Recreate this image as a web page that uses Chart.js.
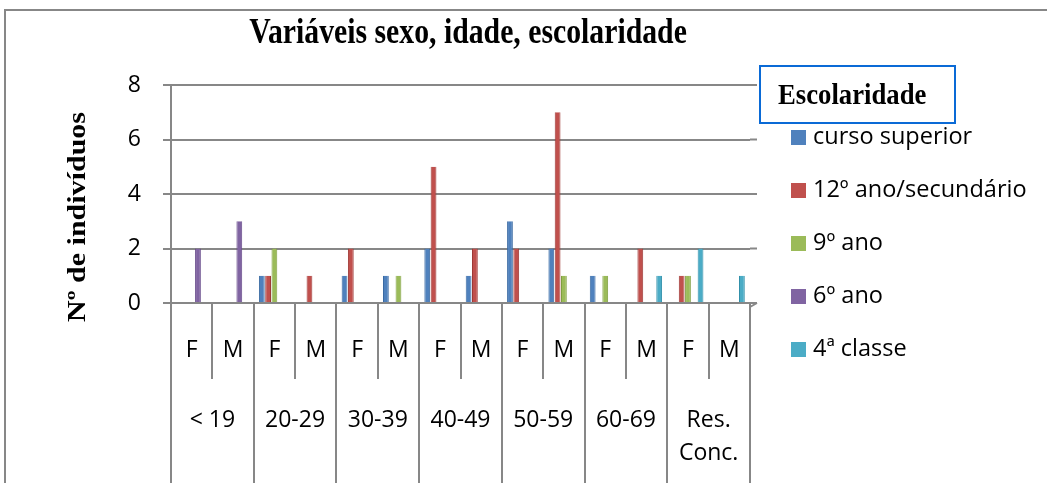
<!DOCTYPE html>
<html>
<head>
<meta charset="utf-8">
<script src="https://cdn.jsdelivr.net/npm/chart.js@4/dist/chart.umd.min.js"></script>
<style>
html, body { margin: 0; padding: 0; background: #fff; }
#wrap { width: 1047px; height: 483px; }
</style>
</head>
<body>
<div id="wrap"><canvas id="grafico"></canvas></div>
<script>
// dados
var categorias = ['F', 'M', 'F', 'M', 'F', 'M', 'F', 'M', 'F', 'M', 'F', 'M', 'F', 'M'];
var faixas = [['< 19'], ['20-29'], ['30-39'], ['40-49'], ['50-59'], ['60-69'], ['Res.', 'Conc.']];
var cursoSuperior = [0, 0, 1, 0, 1, 1, 2, 1, 3, 2, 1, 0, 0, 0];
var secundario    = [0, 0, 1, 1, 2, 0, 5, 2, 2, 7, 0, 2, 1, 0];
var nonoAno       = [0, 0, 2, 0, 0, 1, 0, 0, 0, 1, 1, 0, 1, 0];
var sextoAno      = [2, 3, 0, 0, 0, 0, 0, 0, 0, 0, 0, 0, 0, 0];
var quartaClasse  = [0, 0, 0, 0, 0, 0, 0, 0, 0, 0, 0, 1, 2, 1];
var ticksY = [0, 2, 4, 6, 8];

var cinza = '#878787';
var serif = '"Liberation Serif", "Times New Roman", serif';
var sans = '"Open Sans", "Noto Sans", sans-serif';

function serie(nome, valores, cor, borda) {
    return {
        label: nome,
        data: valores,
        backgroundColor: cor,
        borderColor: borda,
        borderWidth: { left: 1, right: 1, top: 0, bottom: 0 },
        borderSkipped: false,
        categoryPercentage: 0.76,
        barPercentage: 0.92
    };
}

// texto serif um pouco comprimido na horizontal, como no original
function textoEstreito(ctx, txt, x, y, escala) {
    ctx.save();
    ctx.translate(x, y);
    ctx.scale(escala, 1);
    ctx.fillText(txt, 0, 0);
    ctx.restore();
}

// desenha moldura, titulo, legenda e rotulos do eixo x
var extras = {
    id: 'extras',
    afterDraw: function(chart) {
        var ctx = chart.ctx;
        var area = chart.chartArea;
        var x = chart.scales.x;
        var y = chart.scales.y;
        var H = chart.height;
        ctx.save();

        // moldura
        ctx.strokeStyle = cinza;
        ctx.lineWidth = 2;
        ctx.beginPath();
        ctx.moveTo(5, H + 2);
        ctx.lineTo(5, 10);
        ctx.lineTo(chart.width + 2, 10);
        ctx.stroke();

        // prolongamento das linhas de grade (efeito 3d)
        ctx.beginPath();
        ticksY.forEach(function(v) {
            var py = y.getPixelForValue(v);
            ctx.moveTo(area.right, py);
            ctx.lineTo(area.right + 7, py);
        });
        ctx.moveTo(area.right + 7, area.bottom);
        ctx.lineTo(area.right, area.bottom + 4);
        ctx.stroke();

        // titulo
        ctx.fillStyle = '#000';
        ctx.font = 'bold 35px ' + serif;
        ctx.textAlign = 'center';
        ctx.textBaseline = 'alphabetic';
        textoEstreito(ctx, 'Variáveis sexo, idade, escolaridade', 468, 43, 0.85);

        // titulo eixo y
        ctx.save();
        ctx.translate(85, 217);
        ctx.scale(0.85, 1);
        ctx.rotate(-Math.PI / 2);
        ctx.font = 'bold 30px ' + serif;
        ctx.fillText('Nº de indivíduos', 0, 0);
        ctx.restore();

        // tabela do eixo x
        var passo = x.getPixelForValue(1) - x.getPixelForValue(0);
        ctx.strokeStyle = cinza;
        ctx.lineWidth = 2;
        ctx.beginPath();
        for (var i = 0; i <= categorias.length; i++) {
            var px = Math.round(x.getPixelForValue(i) - passo / 2);
            var fim = (i % 2 === 0) ? H + 2 : area.bottom + 76;
            ctx.moveTo(px, area.bottom + 1);
            ctx.lineTo(px, fim);
        }
        ctx.stroke();

        ctx.fillStyle = '#000';
        ctx.font = '23px ' + sans;
        ctx.textAlign = 'center';
        ctx.textBaseline = 'middle';
        categorias.forEach(function(c, i) {
            ctx.fillText(c, x.getPixelForValue(i), area.bottom + 47);
        });
        faixas.forEach(function(f, g) {
            var cx = (x.getPixelForValue(2 * g) + x.getPixelForValue(2 * g + 1)) / 2;
            f.forEach(function(linha, k) {
                ctx.fillText(linha, cx, area.bottom + 117 + k * 33);
            });
        });

        // legenda
        ctx.strokeStyle = '#0a6ad6';
        ctx.lineWidth = 2;
        ctx.strokeRect(760, 66, 195, 57);
        ctx.font = 'bold 30px ' + serif;
        ctx.textAlign = 'left';
        ctx.textBaseline = 'alphabetic';
        textoEstreito(ctx, 'Escolaridade', 778, 104, 0.89);
        ctx.font = '23.5px ' + sans;
        ctx.textBaseline = 'middle';
        chart.data.datasets.forEach(function(ds, i) {
            var ly = 137 + i * 53;
            ctx.fillStyle = ds.backgroundColor;
            ctx.fillRect(791, ly - 7, 15, 15);
            ctx.fillStyle = '#000';
            ctx.fillText(ds.label, 813, ly);
        });

        ctx.restore();
    }
};

var ctx = document.getElementById('grafico').getContext('2d');
var grafico = new Chart(ctx, {
    type: 'bar',
    data: {
        labels: categorias,
        datasets: [
            serie('curso superior', cursoSuperior, '#4f81bd', '#3a6aa3'),
            serie('12º ano/secundário', secundario, '#c0504d', '#9e3936'),
            serie('9º ano', nonoAno, '#9bbb59', '#7f9e40'),
            serie('6º ano', sextoAno, '#8064a2', '#66498a'),
            serie('4ª classe', quartaClasse, '#4bacc6', '#3190aa')
        ]
    },
    options: {
        responsive: true,
        maintainAspectRatio: false,
        animation: false,
        layout: { padding: { left: 0, top: 85, right: 297, bottom: 0 } },
        plugins: {
            legend: { display: false },
            title: { display: false },
            tooltip: { enabled: false }
        },
        scales: {
            x: {
                ticks: { display: false },
                grid: { display: false },
                border: { display: false },
                afterFit: function(s) { s.height = 180; }
            },
            y: {
                min: 0,
                max: 8,
                afterBuildTicks: function(s) {
                    s.ticks = ticksY.map(function(v) { return { value: v }; });
                },
                ticks: {
                    color: '#000',
                    padding: 22,
                    font: { family: sans, size: 23 }
                },
                grid: { color: cinza, lineWidth: 2, drawTicks: true, tickLength: 8 },
                border: { display: true, color: cinza, width: 2 },
                afterFit: function(s) { s.width = 171; }
            }
        }
    },
    plugins: [extras]
});
</script>
</body>
</html>
